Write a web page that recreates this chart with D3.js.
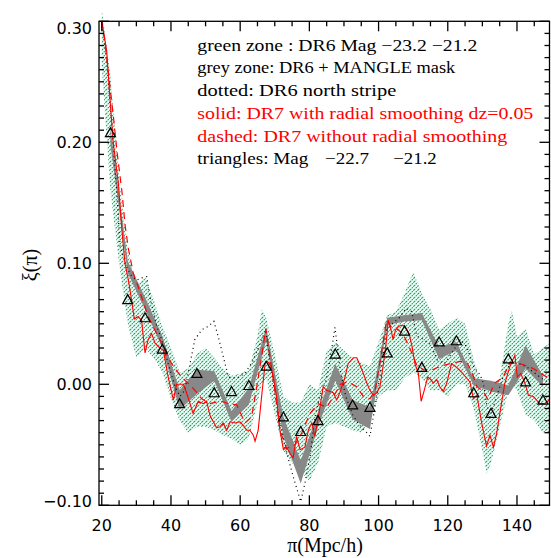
<!DOCTYPE html>
<html><head><meta charset="utf-8">
<script src="https://cdn.jsdelivr.net/npm/d3@7"></script>
<style>body{margin:0;background:#fff}svg{display:block}</style>
</head><body>
<script>
// ---------- data ----------
const xMajorTicks = [20, 40, 60, 80, 100, 120, 140];
const yMajorTicks = [-0.10, 0.00, 0.10, 0.20, 0.30];
const yTickLabels = ["\u22120.10", "0.00", "0.10", "0.20", "0.30"];

// green zone : DR6 Mag -23.2 -21.2 (lower / upper)
const greenX = [20, 22.5, 25, 27.5, 30, 32.5, 35, 37.5, 40, 42.5, 45, 47.5, 50, 52.5, 55, 57.5, 60, 62.5, 65, 66.25, 67.5, 70, 72.5, 75, 77.5, 80, 82.5, 85, 87.5, 90, 92.5, 95, 97.5, 100, 102.5, 105, 107.5, 110, 112.5, 115, 117.5, 120, 122.5, 125, 127.5, 130, 131.25, 132.5, 135, 137.5, 138.5, 140, 142.5, 145, 147.5, 150];
const greenLo = [0.262, 0.160, 0.100, 0.050, 0.022, 0.030, 0.022, 0.010, -0.012, -0.030, -0.040, -0.035, -0.035, -0.038, -0.042, -0.045, -0.050, -0.045, -0.015, 0.000, 0.005, -0.025, -0.055, -0.065, -0.072, -0.080, -0.065, -0.035, -0.032, -0.035, -0.038, -0.040, -0.030, -0.010, -0.005, -0.005, 0.005, 0.010, 0.005, -0.005, -0.005, -0.010, 0.000, 0.000, -0.020, -0.055, -0.074, -0.065, -0.035, -0.005, 0.000, -0.005, -0.025, -0.030, -0.040, -0.040];
const greenHi = [0.310, 0.255, 0.170, 0.110, 0.082, 0.089, 0.070, 0.048, 0.030, 0.010, 0.013, 0.025, 0.030, 0.022, 0.013, 0.007, 0.009, 0.012, 0.040, 0.062, 0.055, 0.025, -0.010, -0.015, -0.015, 0.000, -0.005, 0.028, 0.035, 0.028, 0.022, 0.018, 0.015, 0.035, 0.057, 0.060, 0.075, 0.093, 0.075, 0.062, 0.045, 0.050, 0.055, 0.050, 0.020, -0.002, -0.005, -0.005, 0.005, 0.050, 0.061, 0.040, 0.046, 0.025, 0.030, 0.035];

// grey zone: DR6 + MANGLE mask
const greyX  = [22.5, 27.5, 32.5, 37.5, 42.5, 47.5, 52.5, 57.5, 62.5, 67.5, 72.5, 77.5, 82.5, 87.5, 92.5, 97.5, 102.5, 107.5, 112.5, 117.5, 122.5, 127.5, 132.5, 137.5, 142.5, 147.5];
const greyLo = [0.198, 0.092, 0.062, 0.030, -0.021, -0.008, 0.003, -0.031, -0.017, 0.036, -0.043, -0.082, -0.035, 0.003, -0.029, -0.037, 0.049, 0.052, 0.053, 0.021, 0.028, -0.001, -0.006, -0.009, 0.013, -0.002];
const greyHi = [0.212, 0.102, 0.072, 0.040, -0.005, 0.012, 0.011, -0.022, -0.003, 0.047, -0.027, -0.063, -0.023, 0.017, -0.013, -0.019, 0.055, 0.057, 0.059, 0.031, 0.035, 0.005, 0.003, -0.001, 0.032, 0.007];

// dotted: DR6 north stripe
const dotX = [20, 21.5, 23, 24.3, 25.3, 27, 28.5, 30, 31.5, 33, 33.9, 35.9, 37.3, 39.2, 41.2, 42.6, 44, 45.5, 46.9, 48.9, 50.8, 52.4, 53.7, 55.1, 56.6, 59, 61.4, 63.8, 66.2, 67.4, 68.6, 70.5, 73, 75.3, 77.5, 78.7, 80.2, 81.6, 83, 85, 86.5, 87.4, 88.9, 90.5, 92.5, 94.2, 96, 97.5, 99.5, 100.9, 102.3, 104, 106, 108, 109.6, 111, 113, 115, 117, 119, 121, 123.6, 125.5, 127.4, 129.3, 130.3, 131.2, 132.2, 134.1, 136, 138, 140, 143, 146.6, 149.4];
const dotY = [0.300, 0.265, 0.210, 0.160, 0.114, 0.098, 0.090, 0.086, 0.088, 0.089, 0.072, 0.048, 0.037, 0.017, -0.002, -0.010, -0.005, 0.017, 0.037, 0.045, 0.048, 0.052, 0.039, 0.023, 0.006, 0.005, 0.009, 0.020, 0.037, 0.045, 0.017, -0.016, -0.052, -0.076, -0.097, -0.082, -0.060, -0.027, -0.010, 0.005, 0.030, 0.047, 0.012, -0.010, -0.025, -0.033, -0.038, -0.043, -0.010, 0.017, 0.045, 0.050, 0.055, 0.063, 0.060, 0.040, 0.037, 0.033, 0.020, 0.017, 0.025, 0.037, 0.031, 0.015, 0.008, 0.001, -0.016, -0.027, -0.010, 0.006, 0.017, 0.018, 0.014, 0.006, 0.001];

// solid: DR7 with radial smoothing dz=0.05
const solidX = [20, 21.4, 22.4, 23.3, 24.8, 25.8, 26.7, 27.7, 28.6, 29.4, 30.5, 31.5, 32.5, 33.4, 34.4, 35.4, 36.8, 37.8, 39.2, 40.7, 41.6, 43.6, 44.5, 46.4, 47.9, 49.3, 50.3, 51.3, 53.2, 54.2, 55.1, 56.1, 57.1, 58.5, 59.9, 60.9, 61.9, 62.8, 63.8, 64.3, 65.2, 66.2, 67.2, 67.9, 68.9, 69.6, 70.5, 71.5, 72.5, 73.4, 74.4, 75.3, 76.3, 77.3, 78.7, 79.7, 80.7, 81.6, 82.6, 84, 85, 86, 86.9, 87.9, 88.8, 90.3, 91.2, 92.7, 93.7, 94.6, 95.6, 96.6, 97.5, 98.5, 99.5, 100.4, 101.4, 102.3, 102.8, 103.6, 104.2, 104.9, 105.9, 106.9, 107.8, 108.8, 109.7, 110.5, 111.5, 112.3, 113.2, 114.2, 115.1, 115.8, 116.8, 117.7, 118.7, 119.7, 121.1, 122.6, 124, 125.5, 126.4, 127.4, 128.4, 129.8, 131.2, 132.2, 133.2, 134.1, 135.1, 136.5, 138, 139.4, 140.1, 141.1, 142.3, 143.3, 144.7, 146.6, 148, 149.4];
const solidY = [0.300, 0.276, 0.235, 0.200, 0.166, 0.128, 0.100, 0.086, 0.070, 0.054, 0.056, 0.053, 0.026, 0.037, 0.042, 0.034, 0.030, 0.028, 0.006, -0.013, 0.000, 0.000, -0.007, -0.024, -0.014, -0.016, -0.014, -0.026, -0.036, -0.035, -0.032, -0.038, -0.031, -0.032, -0.031, -0.034, -0.038, -0.038, -0.042, -0.047, -0.038, -0.010, 0.017, 0.019, 0.015, 0.006, -0.010, -0.038, -0.054, -0.052, -0.057, -0.061, -0.043, -0.054, -0.052, -0.038, -0.032, -0.043, -0.027, -0.002, -0.005, -0.006, -0.007, -0.013, -0.007, 0.006, 0.017, 0.022, 0.022, 0.016, 0.009, 0.001, -0.005, -0.009, -0.007, -0.002, 0.017, 0.037, 0.053, 0.045, 0.037, 0.045, 0.048, 0.049, 0.047, 0.042, 0.031, 0.017, 0.009, -0.014, -0.005, 0.006, 0.004, 0.001, 0.004, -0.002, -0.006, 0.001, 0.017, 0.014, 0.010, 0.005, 0.002, -0.012, -0.009, -0.032, -0.051, -0.042, -0.052, -0.041, -0.023, 0.001, 0.015, 0.024, 0.006, 0.009, 0.001, -0.009, -0.010, -0.016, -0.016, -0.013];

// dashed: DR7 without radial smoothing
const dashX = [20, 20.9, 22, 23.3, 24.5, 25.8, 26.8, 27.7, 29.1, 30.5, 32, 33.4, 35.5, 37.3, 38.8, 40.2, 41.7, 43.1, 44.5, 46, 47.5, 48.9, 51.3, 52.7, 54.5, 56.6, 59, 60.3, 61.4, 63.3, 64.8, 66.2, 67.4, 68.6, 70.1, 71.5, 73.4, 75.8, 77.8, 80.2, 82.6, 85, 87, 89, 91.2, 93.7, 95.6, 97.5, 99, 100.5, 102.3, 103.8, 105.2, 107, 109, 111, 113, 115.5, 118, 120.6, 123.6, 125.5, 127, 128.4, 130.3, 131.5, 133.6, 136, 138, 141, 143, 144.7, 148.6, 149.4];
const dashY = [0.300, 0.283, 0.255, 0.223, 0.190, 0.160, 0.130, 0.112, 0.092, 0.081, 0.068, 0.056, 0.044, 0.034, 0.025, 0.017, 0.011, 0.006, 0.002, -0.002, -0.007, -0.012, -0.016, -0.015, -0.014, -0.016, -0.017, -0.025, -0.032, -0.027, -0.002, 0.023, 0.046, 0.023, -0.007, -0.038, -0.053, -0.050, -0.040, -0.024, -0.016, -0.019, -0.010, 0.000, 0.002, -0.002, -0.010, -0.012, -0.005, 0.020, 0.053, 0.047, 0.046, 0.042, 0.030, 0.016, 0.012, 0.012, 0.015, 0.017, 0.019, 0.018, 0.010, -0.002, -0.006, -0.012, 0.001, 0.006, 0.018, 0.017, 0.015, 0.013, 0.006, 0.004];

// triangles: Mag -22.7 -21.2
const triX = [22.5, 27.5, 32.5, 37.5, 42.5, 47.5, 52.5, 57.5, 62.5, 67.5, 72.5, 77.5, 82.5, 87.5, 92.5, 97.5, 102.5, 107.5, 112.5, 117.5, 122.5, 127.5, 132.5, 137.5, 142.5, 147.5];
const triY = [0.208, 0.070, 0.055, 0.029, -0.016, 0.009, -0.007, -0.006, -0.001, 0.015, -0.027, -0.039, -0.030, 0.025, -0.017, -0.019, 0.026, 0.044, 0.014, 0.035, 0.036, -0.007, -0.024, 0.021, 0.002, -0.013];

const legendLines = [
  {text: "green zone : DR6 Mag \u221223.2 \u221221.2", color: "#000", w: 280},
  {text: "grey zone: DR6 + MANGLE mask", color: "#000", w: 258},
  {text: "dotted: DR6 north stripe", color: "#000", w: 199},
  {text: "solid: DR7 with radial smoothing dz=0.05", color: "#ff0000", w: 336},
  {text: "dashed: DR7 without radial smoothing", color: "#ff0000", w: 310},
];
const legendLast = ["triangles: Mag", "\u221222.7", "\u221221.2"];

// ---------- drawing ----------
const W = 551, H = 558;
const L = 99, R = 549.5, T = 21.3, B = 505.3;
const svg = d3.select("body").append("svg").attr("width", W).attr("height", H);
const x = d3.scaleLinear().domain([19.2, 149.4]).range([L, R]);
const y = d3.scaleLinear().domain([-0.10, 0.30]).range([B, T]);

const defs = svg.append("defs");
const pat = defs.append("pattern").attr("id", "hatch").attr("patternUnits", "userSpaceOnUse")
  .attr("width", 4).attr("height", 4);
pat.append("path").attr("d", "M-1,5 L5,-1 M-1,1 L1,-1 M3,5 L5,3")
  .attr("stroke", "#0faa66").attr("stroke-width", 1.2).attr("stroke-dasharray", "2.6,0.7");
defs.append("clipPath").attr("id", "clipG").append("rect").attr("x", L).attr("y", 12).attr("width", R - L).attr("height", B - 12);
defs.append("clipPath").attr("id", "clipP").append("rect").attr("x", L).attr("y", T).attr("width", R - L).attr("height", B - T);

const area = (xs, lo, hi) => d3.area().x((d, i) => x(xs[i])).y0((d, i) => y(lo[i])).y1((d, i) => y(hi[i]))(xs);
const line = (xs, ys) => d3.line().x((d, i) => x(xs[i])).y((d, i) => y(ys[i]))(xs);

svg.append("path").attr("d", area(greenX, greenLo, greenHi)).attr("fill", "url(#hatch)").attr("clip-path", "url(#clipG)");
const gp = svg.append("g").attr("clip-path", "url(#clipP)");
gp.append("path").attr("d", area(greyX, greyLo, greyHi)).attr("fill", "#888888");
gp.append("path").attr("d", line(dotX, dotY)).attr("fill", "none").attr("stroke", "#000").attr("stroke-width", 1.2).attr("stroke-dasharray", "1,3.5");
gp.append("path").attr("d", line(dashX, dashY)).attr("fill", "none").attr("stroke", "#ff0000").attr("stroke-width", 1.2).attr("stroke-dasharray", "7,5");
gp.append("path").attr("d", line(solidX, solidY)).attr("fill", "none").attr("stroke", "#ff0000").attr("stroke-width", 1.1);

svg.append("g").selectAll("path").data(triX).join("path")
  .attr("d", (d, i) => { const cx = x(d), cy = y(triY[i]); return `M${cx - 5},${cy + 4}L${cx + 5},${cy + 4}L${cx},${cy - 5}Z`; })
  .attr("fill", "none").attr("stroke", "#000").attr("stroke-width", 1.2);

// frame + ticks
const ax = svg.append("g").attr("stroke", "#000").attr("stroke-width", 1.3);
ax.append("rect").attr("x", L).attr("y", T).attr("width", R - L).attr("height", B - T).attr("fill", "none");
const xMinor = d3.range(20, 150, 5);
xMinor.forEach(v => {
  const big = xMajorTicks.includes(v); const len = big ? 10 : 5; const px = x(v);
  ax.append("line").attr("x1", px).attr("x2", px).attr("y1", B).attr("y2", B - len);
  ax.append("line").attr("x1", px).attr("x2", px).attr("y1", T).attr("y2", T + len);
});
const yMinor = d3.range(-10, 31, 1).map(k => k / 100);
yMinor.forEach((v, k) => {
  const big = (k % 10 === 0); const len = big ? 10 : 5; const py = y(v);
  ax.append("line").attr("x1", L).attr("x2", L + len).attr("y1", py).attr("y2", py);
  ax.append("line").attr("x1", R).attr("x2", R - len).attr("y1", py).attr("y2", py);
});

const tickFont = "'DejaVu Sans', sans-serif";
svg.append("g").selectAll("text").data(xMajorTicks).join("text")
  .attr("x", d => x(d)).attr("y", 531).attr("text-anchor", "middle")
  .attr("font-family", tickFont).attr("font-size", 16).text(d => d);
const yNudge = [-4, 0, 0, 0, 7];
svg.append("g").selectAll("text").data(yMajorTicks).join("text")
  .attr("x", 92).attr("y", (d, i) => y(d) + 6 + yNudge[i]).attr("text-anchor", "end")
  .attr("font-family", tickFont).attr("font-size", 16).text((d, i) => yTickLabels[i]);

const serif = "'Liberation Serif', 'DejaVu Serif', serif";
svg.append("text").attr("x", 325).attr("y", 552).attr("text-anchor", "middle")
  .attr("font-family", serif).attr("font-size", 20).text("\u03c0(Mpc/h)");
svg.append("text").attr("transform", "translate(37,265) rotate(-90)").attr("text-anchor", "middle")
  .attr("font-family", serif).attr("font-size", 20).text("\u03be(\u03c0)");

const lg = svg.append("g").attr("font-family", serif).attr("font-size", 17);
legendLines.forEach((d, i) => {
  lg.append("text").attr("x", 197.3).attr("y", 50.7 + i * 22.7).attr("fill", d.color)
    .attr("textLength", d.w).attr("lengthAdjust", "spacingAndGlyphs").text(d.text);
});
const l6y = 50.7 + 5 * 22.7;
lg.append("text").attr("x", 197.3).attr("y", l6y).attr("textLength", 111).attr("lengthAdjust", "spacingAndGlyphs").text(legendLast[0]);
lg.append("text").attr("x", 325).attr("y", l6y).attr("textLength", 44).attr("lengthAdjust", "spacingAndGlyphs").text(legendLast[1]);
lg.append("text").attr("x", 393.3).attr("y", l6y).attr("textLength", 43.4).attr("lengthAdjust", "spacingAndGlyphs").text(legendLast[2]);
</script>
</body></html>
